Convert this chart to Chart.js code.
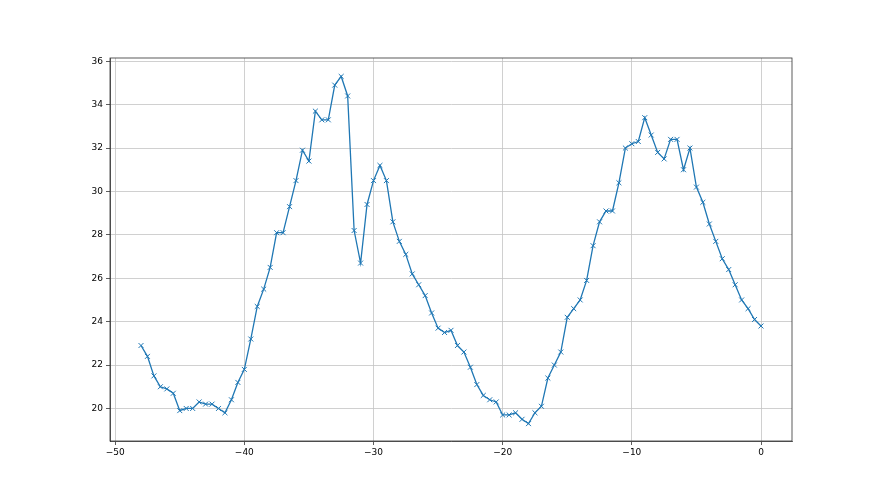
<!DOCTYPE html>
<html lang="en">
<head>
    <meta charset="UTF-8">
    <title>Line chart</title>
    <style>
        body { margin: 0; background: #fff; }
        canvas { display: block; }
    </style>
    <script src="https://cdn.jsdelivr.net/npm/chart.js"></script>
</head>
<body>
    <canvas id="myChart" width="880" height="495"></canvas>

    <script>
        // x positions (step 0.5) and measured values
        var xValues = [];
        for (var i = 0; i <= 96; i++) xValues.push(-48 + i * 0.5);

        var yValues = [
            22.9, 22.4, 21.5, 21.0, 20.9, 20.7, 19.9, 20.0, 20.0, 20.3,
            20.2, 20.2, 20.0, 19.8, 20.4, 21.2, 21.8, 23.2, 24.7, 25.5,
            26.5, 28.1, 28.1, 29.3, 30.5, 31.9, 31.4, 33.7, 33.3, 33.3,
            34.9, 35.3, 34.4, 28.2, 26.7, 29.4, 30.5, 31.2, 30.5, 28.6,
            27.7, 27.1, 26.2, 25.7, 25.2, 24.4, 23.7, 23.5, 23.6, 22.9,
            22.6, 21.9, 21.1, 20.6, 20.4, 20.3, 19.7, 19.7, 19.8, 19.5,
            19.3, 19.8, 20.1, 21.4, 22.0, 22.6, 24.2, 24.6, 25.0, 25.9,
            27.5, 28.6, 29.1, 29.1, 30.4, 32.0, 32.2, 32.3, 33.4, 32.6,
            31.8, 31.5, 32.4, 32.4, 31.0, 32.0, 30.2, 29.5, 28.5, 27.7,
            26.9, 26.4, 25.7, 25.0, 24.6, 24.1, 23.8
        ];

        var xTicks = [-50, -40, -30, -20, -10, 0];
        var yTicks = [20, 22, 24, 26, 28, 30, 32, 34, 36];

        // draws the full box around the plot area, like matplotlib spines
        const framePlugin = {
            id: 'frame',
            afterDraw: function(chart) {
                const ctx = chart.ctx;
                const a = chart.chartArea;
                ctx.save();
                ctx.strokeStyle = '#333';
                ctx.lineWidth = 0.8;
                ctx.strokeRect(a.left, a.top, a.right - a.left, a.bottom - a.top);
                ctx.restore();
            }
        };

        var points = xValues.map(function(x, i) { return { x: x, y: yValues[i] }; });

        var ctx = document.getElementById('myChart').getContext('2d');
        new Chart(ctx, {
            type: 'scatter',
            data: {
                datasets: [{
                    data: points,
                    showLine: true,
                    borderColor: '#1f77b4',
                    backgroundColor: '#1f77b4',
                    borderWidth: 1.3,
                    pointStyle: 'crossRot',
                    pointRadius: 3.5,
                    pointBorderWidth: 1,
                    pointHoverRadius: 3.5
                }]
            },
            options: {
                responsive: false,
                animation: false,
                layout: { padding: { left: 70, right: 88, top: 58, bottom: 34 } },
                plugins: {
                    legend: { display: false },
                    tooltip: { enabled: false }
                },
                scales: {
                    x: {
                        type: 'linear',
                        min: -50.4,
                        max: 2.4,
                        afterFit: function(scale) { scale.height = 20; },
                        afterBuildTicks: function(scale) {
                            scale.ticks = xTicks.map(function(v) { return { value: v }; });
                        },
                        grid: { color: '#c4c4c4', lineWidth: 0.8, tickColor: '#333', tickLength: 4 },
                        border: { color: '#333', width: 0.8 },
                        ticks: {
                            color: '#000',
                            padding: 2,
                            maxRotation: 0,
                            font: { family: 'DejaVu Sans', size: 9 },
                            callback: function(v) { return String(v).replace('-', '\u2212'); }
                        }
                    },
                    y: {
                        min: 18.5,
                        max: 36.15,
                        afterFit: function(scale) { scale.width = 40; },
                        afterBuildTicks: function(scale) {
                            scale.ticks = yTicks.map(function(v) { return { value: v }; });
                        },
                        grid: { color: '#c4c4c4', lineWidth: 0.8, tickColor: '#333', tickLength: 4 },
                        border: { color: '#333', width: 0.8 },
                        ticks: {
                            color: '#000',
                            padding: 3,
                            font: { family: 'DejaVu Sans', size: 9 }
                        }
                    }
                }
            },
            plugins: [framePlugin]
        });
    </script>
</body>
</html>
